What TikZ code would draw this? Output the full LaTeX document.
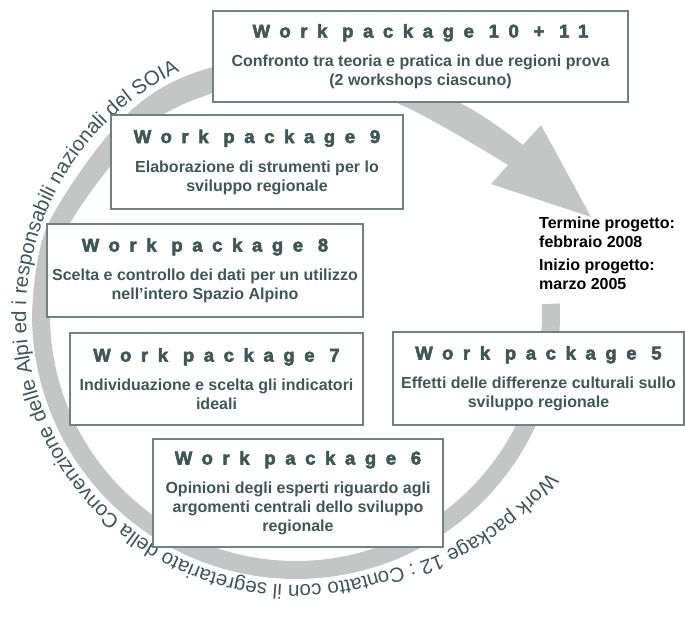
\documentclass[tikz,border=0pt]{standalone}
\usepackage{fontspec}
\setmainfont{Liberation Sans}
\newfontfamily\headfont{Liberation Sans}[LetterSpace=52,FakeBold=3]
\usetikzlibrary{decorations.text}

\definecolor{wpslate}{RGB}{62,88,86}
\definecolor{wpline}{RGB}{112,130,128}
\definecolor{ringgray}{RGB}{196,198,197}

\tikzset{
	wpbox/.style={draw=wpline, line width=1.2pt, fill=white, align=center, inner sep=0pt,
		text=wpslate, font=\bfseries\fontsize{16}{19}\selectfont},
	datetext/.style={align=left, inner sep=0pt, font=\bfseries\fontsize{16}{19}\selectfont}
}
\newcommand{\wphead}[1]{{\headfont\bfseries\fontsize{18.5}{22}\selectfont #1}}

\begin{document}
\begin{tikzpicture}[x=1pt, y=-1pt]
			%%%%% START %%%%%
			\useasboundingbox (0,0) rectangle (685,631);
			
			\coordinate (ctr) at (296,315);
			
			% ring with the arrow
			\fill[ringgray] (ctr) ++(-2.5:264) arc[start angle=-2.5, end angle=180, radius=264]
				-- plot[smooth, tension=0.55] coordinates {(32,315) (47.9,224.7) (127.3,113.9) (213,67) (341.7,56) (460,103) (523,145)}
				-- (541,125) -- (591,217) -- (491,184)
				-- plot[smooth, tension=0.55] coordinates {(508,165) (397,103) (296,79) (213,93) (141.7,131.2) (65.8,231.2) (50,315)}
				arc[start angle=180, end angle=-2.5, radius=246] -- cycle;
			
			% text round the ring
			\path[decorate, decoration={text along path, text color=wpslate,
				text={|\fontsize{20.5}{22}\selectfont|Work package 12 : Contatto con il segretariato della Convenzione delle Alpi ed i responsabili nazionali del SOIA}}]
				plot[domain=-32:-255, samples=220] ({296+(270+0.7*max(0,\x+72))*cos(\x)}, {315-(270+0.7*max(0,\x+72))*sin(\x)});
			
			\node[wpbox, minimum width=415pt, minimum height=91pt] (wp1011) at (420.5,56.5)
				{\wphead{Work package 10 + 11}\\[10pt]Confronto tra teoria e pratica in due regioni prova\\(2 workshops ciascuno)};
			\node[wpbox, minimum width=292pt, minimum height=94pt] (wp9) at (257,162)
				{\wphead{Work package 9}\\[10pt]Elaborazione di strumenti per lo\\sviluppo regionale};
			\node[wpbox, minimum width=316pt, minimum height=93pt] (wp8) at (205,270.5)
				{\wphead{Work package 8}\\[10pt]Scelta e controllo dei dati per un utilizzo\\nell’intero Spazio Alpino};
			\node[wpbox, minimum width=293pt, minimum height=92pt] (wp7) at (216.5,379)
				{\wphead{Work package 7}\\[10pt]Individuazione e scelta gli indicatori\\ideali};
			\node[wpbox, minimum width=290pt, minimum height=108pt] (wp6) at (298,493)
				{\wphead{Work package 6}\\[10pt]Opinioni degli esperti riguardo agli\\argomenti centrali dello sviluppo\\regionale};
			\node[wpbox, minimum width=291pt, minimum height=93pt] (wp5) at (538.5,378.5)
				{\wphead{Work package 5}\\[10pt]Effetti delle differenze culturali sullo\\sviluppo regionale};
			
			\node[datetext, anchor=north west] (termine) at (539,217)
				{Termine progetto:\\febbraio 2008\\[4pt]Inizio progetto:\\marzo 2005};
			%%%%% END %%%%%
\end{tikzpicture}
\end{document}
